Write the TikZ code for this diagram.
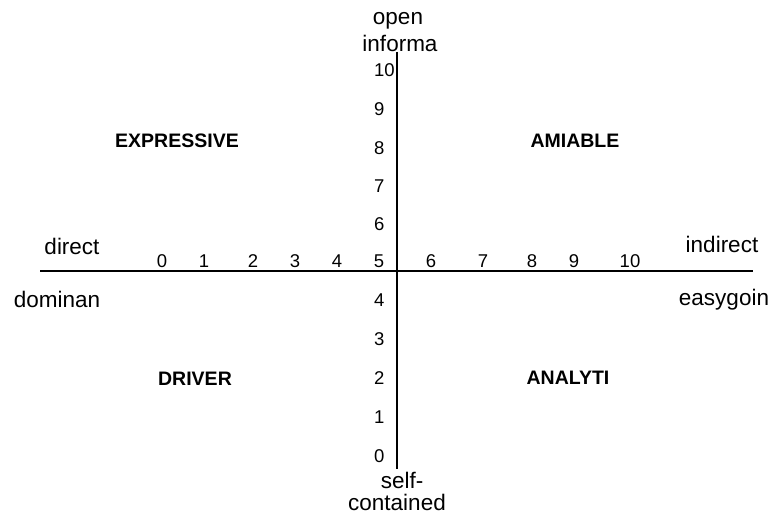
\documentclass[tikz,border=0pt]{standalone}
\usepackage{fontspec}
\setmainfont{Liberation Sans}
\begin{document}
\begin{tikzpicture}[x=1pt,y=-1pt,
  axis/.style={line width=1.7pt},
  tick/.style={font=\fontsize{18.5}{20}\selectfont, inner sep=0pt, anchor=base},
  pole/.style={font=\fontsize{22.5}{24}\selectfont, inner sep=0pt, anchor=base},
  quad/.style={font=\fontsize{19.5}{21}\selectfont\bfseries, inner sep=0pt}]
\useasboundingbox (0,0) rectangle (777,519);
% axes
\coordinate (west) at (40,271);
\coordinate (east) at (753,271);
\coordinate (north) at (397,52);
\coordinate (south) at (397,469);
\draw[axis] (west) -- (east);
\draw[axis] (north) -- (south);
% scale on the horizontal axis
\foreach \v/\x in {0/162,1/204,2/253,3/295,4/337,5/379,6/431,7/483,8/532,9/574,10/630}
  \node[tick] (h\v) at (\x,267) {\v};
% scale on the vertical axis (5 is shared with the horizontal scale)
\foreach \v/\y in {10/77,9/116,8/154,7/192,6/230,4/306,3/345,2/384,1/423,0/462}
  \node[tick, anchor=base west] (v\v) at (374,\y) {\v};
% pole labels
\node[pole] (open) at (398,25) {open};
\node[pole] (informa) at (400,52) {informa};
\node[pole] (self) at (402,488) {self-};
\node[pole] (contained) at (397,510) {contained};
\node[pole] (direct) at (72,254) {direct};
\node[pole] (dominan) at (57,307) {dominan};
\node[pole] (indirect) at (722,252) {indirect};
\node[pole] (easygoin) at (724,305) {easygoin};
% quadrant names
\node[quad] (expressive) at (177,141) {EXPRESSIVE};
\node[quad] (amiable) at (575,141) {AMIABLE};
\node[quad] (driver) at (195,379) {DRIVER};
\node[quad] (analyti) at (568,378) {ANALYTI};
\end{tikzpicture}
\end{document}
